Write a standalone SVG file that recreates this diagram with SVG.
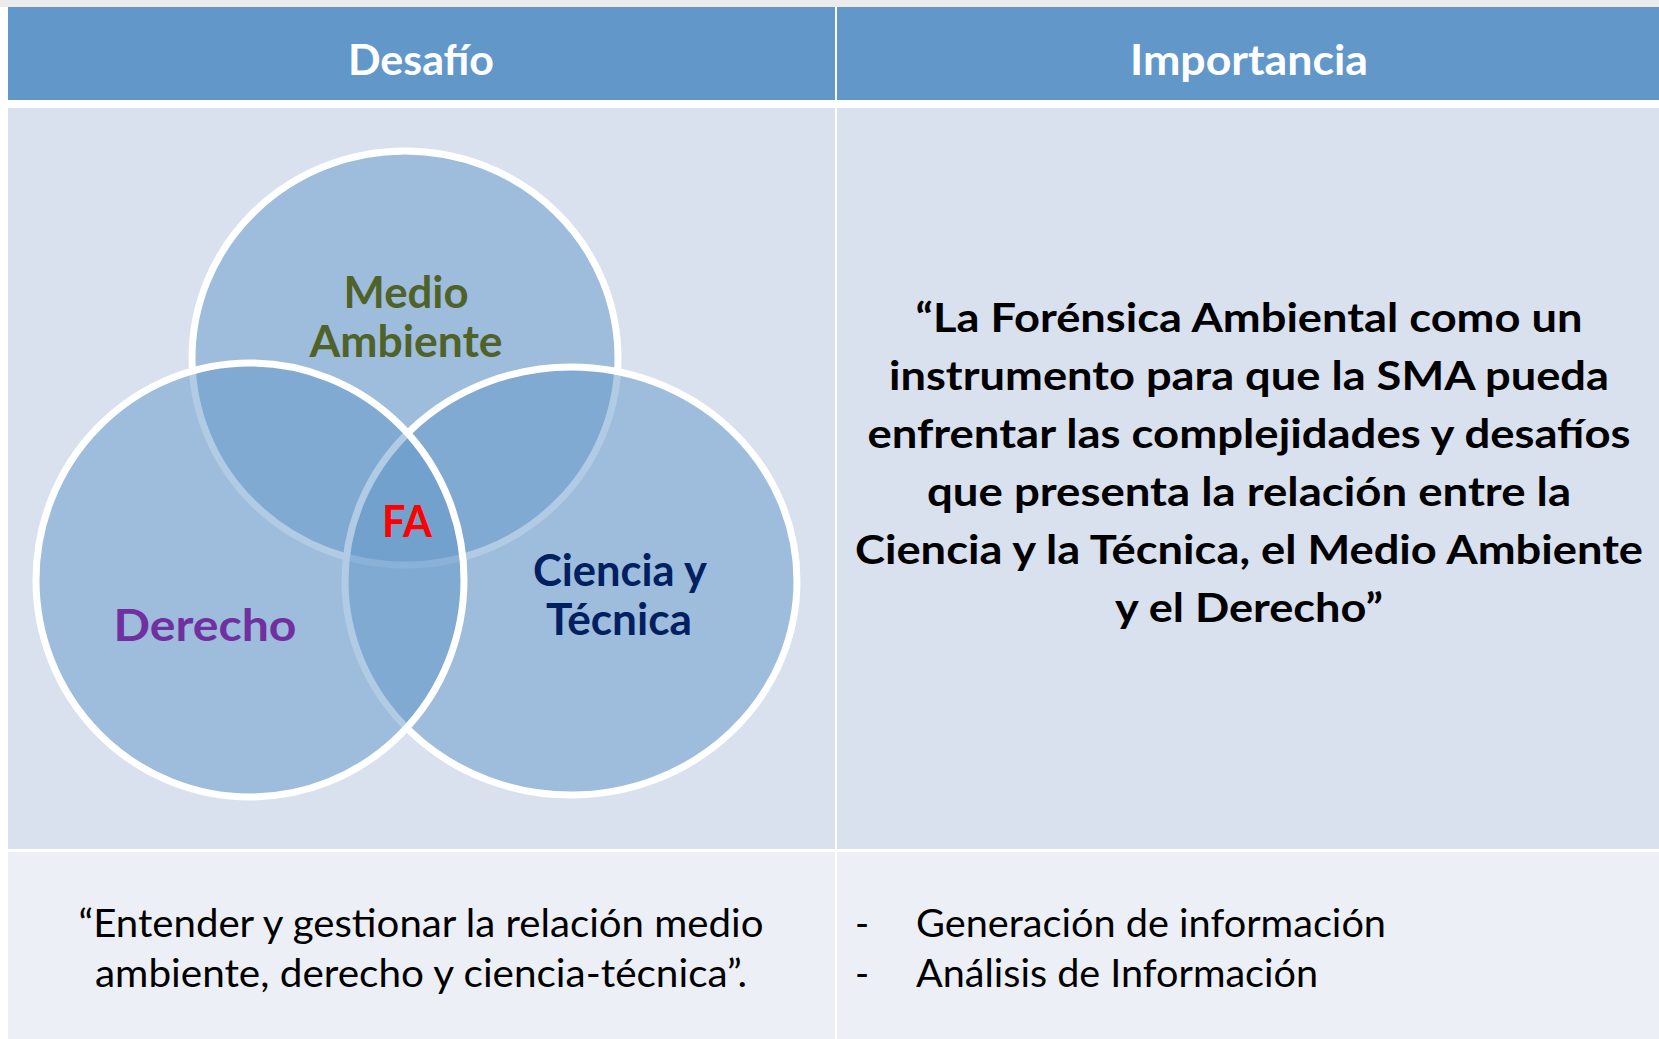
<svg xmlns="http://www.w3.org/2000/svg" width="1659" height="1039" viewBox="0 0 1659 1039">
  <style>
    .hdr { fill: #6297CA; }
    .body1 { fill: #D9E0EE; }
    .body2 { fill: #ECEFF5; }
    .htxt { font-family: Lato, "Open Sans", "Liberation Sans", sans-serif; font-weight: bold; font-size: 42px; fill: #FFFFFF; text-anchor: middle; }
    .venn { fill: #6397CA; fill-opacity: 0.5; stroke: #FFFFFF; stroke-width: 7; }
    .vlab { font-family: Lato, "Open Sans", "Liberation Sans", sans-serif; font-weight: bold; font-size: 43px; text-anchor: middle; }
    .quote { font-family: Lato, "Open Sans", "Liberation Sans", sans-serif; font-weight: bold; font-size: 40px; fill: #000000; text-anchor: middle; }
    .reg { font-family: Lato, "Open Sans", "Liberation Sans", sans-serif; font-size: 38px; fill: #000000; }
  </style>
  <rect x="0" y="0" width="1659" height="1039" fill="#FFFFFF"/>
  <rect x="0" y="0" width="1659" height="7" fill="#EBEBEB"/>

  <g id="header-desafio">
    <rect class="hdr" x="8" y="7" width="827" height="93"/>
    <text class="htxt" x="421" y="75" textLength="146" lengthAdjust="spacingAndGlyphs">Desafío</text>
  </g>
  <g id="header-importancia">
    <rect class="hdr" x="837" y="7" width="822" height="93"/>
    <text class="htxt" x="1249" y="75" textLength="238" lengthAdjust="spacingAndGlyphs">Importancia</text>
  </g>

  <g id="cell-venn">
    <rect class="body1" x="8" y="108" width="827" height="741"/>
  </g>
  <g id="cell-quote">
    <rect class="body1" x="837" y="108" width="822" height="741"/>
    <text class="quote" x="1249" y="332" textLength="667" lengthAdjust="spacingAndGlyphs">“La Forénsica Ambiental como un</text>
    <text class="quote" x="1249" y="390" textLength="720" lengthAdjust="spacingAndGlyphs">instrumento para que la SMA pueda</text>
    <text class="quote" x="1249" y="448" textLength="763" lengthAdjust="spacingAndGlyphs">enfrentar las complejidades y desafíos</text>
    <text class="quote" x="1249" y="506" textLength="644" lengthAdjust="spacingAndGlyphs">que presenta la relación entre la</text>
    <text class="quote" x="1249" y="564" textLength="788" lengthAdjust="spacingAndGlyphs">Ciencia y la Técnica, el Medio Ambiente</text>
    <text class="quote" x="1249" y="622" textLength="268" lengthAdjust="spacingAndGlyphs">y el Derecho”</text>
  </g>

  <g id="cell-entender">
    <rect class="body2" x="8" y="852" width="827" height="187"/>
    <text class="reg" x="421" y="937" text-anchor="middle" textLength="685" lengthAdjust="spacingAndGlyphs">“Entender y gestionar la relación medio</text>
    <text class="reg" x="421" y="987" text-anchor="middle" textLength="652" lengthAdjust="spacingAndGlyphs">ambiente, derecho y ciencia-técnica”.</text>
  </g>
  <g id="cell-lista">
    <rect class="body2" x="837" y="852" width="822" height="187"/>
    <text class="reg" x="855" y="937">-</text>
    <text class="reg" x="916" y="937" textLength="470" lengthAdjust="spacingAndGlyphs">Generación de información</text>
    <text class="reg" x="855" y="987">-</text>
    <text class="reg" x="916" y="987" textLength="402" lengthAdjust="spacingAndGlyphs">Análisis de Información</text>
  </g>

  <g id="venn-medio-ambiente">
    <ellipse class="venn" cx="405" cy="358" rx="213" ry="207"/>
  </g>
  <g id="venn-ciencia-tecnica">
    <ellipse class="venn" cx="571" cy="581" rx="226" ry="214"/>
  </g>
  <g id="venn-derecho">
    <ellipse class="venn" cx="250" cy="580" rx="214" ry="217"/>
  </g>

  <g id="venn-labels">
    <text class="vlab" x="406" y="308" fill="#4F6228" textLength="125" lengthAdjust="spacingAndGlyphs">Medio</text>
    <text class="vlab" x="406" y="357" fill="#4F6228" textLength="193" lengthAdjust="spacingAndGlyphs">Ambiente</text>
    <text class="vlab" x="407" y="537" fill="#FF0000" textLength="50" lengthAdjust="spacingAndGlyphs">FA</text>
    <text class="vlab" x="205" y="641" fill="#7030A0" font-size="49" textLength="183" lengthAdjust="spacingAndGlyphs">Derecho</text>
    <text class="vlab" x="620" y="586" fill="#002060" textLength="174" lengthAdjust="spacingAndGlyphs">Ciencia y</text>
    <text class="vlab" x="619" y="635" fill="#002060" textLength="146" lengthAdjust="spacingAndGlyphs">Técnica</text>
  </g>

  <g id="connectors"/>
</svg>
